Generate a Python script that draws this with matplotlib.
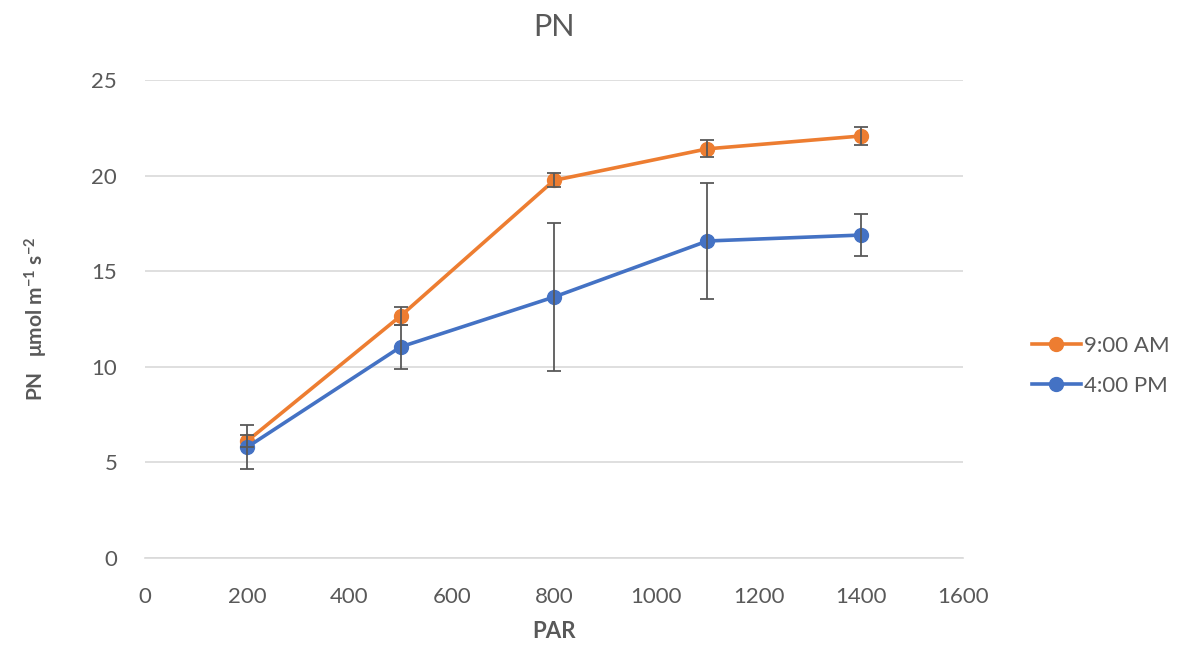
import matplotlib
matplotlib.use("Agg")
import matplotlib.pyplot as plt

plt.rcParams['font.family'] = ['Lato', 'DejaVu Sans']
plt.rcParams['mathtext.fontset'] = 'custom'
plt.rcParams['mathtext.rm'] = 'Lato'
plt.rcParams['mathtext.bf'] = 'Lato:bold'

par = [200, 500, 800, 1100, 1400]
am_values = [6.12, 12.66, 19.75, 21.40, 22.07]
am_errors = [0.30, 0.45, 0.37, 0.44, 0.49]
pm_values = [5.80, 11.04, 13.65, 16.58, 16.89]
pm_errors = [1.15, 1.17, 3.87, 3.03, 1.08]
series_labels = ['9:00 AM', '4:00 PM']
x_ticks = [0, 200, 400, 600, 800, 1000, 1200, 1400, 1600]
y_ticks = [0, 5, 10, 15, 20, 25]

W, H = 1197, 647
fig = plt.figure(figsize=(W / 100, H / 100), dpi=100)
ax = fig.add_axes([145 / W, 1 - 558 / H, (963 - 145) / W, (558 - 80) / H])

orange = '#ED7D31'
blue = '#4472C4'
grey = '#595959'

for vals, errs, col, lab in [(am_values, am_errors, orange, series_labels[0]),
                             (pm_values, pm_errors, blue, series_labels[1])]:
    ax.plot(par, vals, color=col, lw=2.6, marker='o', markersize=10, label=lab, zorder=3)
    ax.errorbar(par, vals, yerr=errs, fmt='none', ecolor=grey, elinewidth=1.3,
                capsize=5, capthick=1.3, zorder=4)

ax.set_xlim(0, 1600)
ax.set_ylim(0, 25)
ax.set_xticks(x_ticks)
ax.set_yticks(y_ticks)
ax.tick_params(axis='both', length=0, labelsize=16, labelcolor=grey)
ax.tick_params(axis='x', pad=21)
ax.tick_params(axis='y', pad=20)
ax.grid(axis='y', color='#d9d9d9', lw=1.2)
ax.set_axisbelow(True)
for s in ['top', 'right', 'left']:
    ax.spines[s].set_visible(False)
ax.spines['bottom'].set_color('#d9d9d9')
ax.spines['bottom'].set_linewidth(1.2)

ax.set_title('PN', fontsize=22, color=grey, pad=32)
ax.set_xlabel('PAR', fontsize=16, fontweight='bold', color=grey, labelpad=10)
ax.set_ylabel(r'PN   μmol m$\mathbf{^{-1}}$ s$\mathbf{^{-2}}$', fontsize=15,
              fontweight='bold', color=grey, labelpad=30)

handles, labels = ax.get_legend_handles_labels()
leg = fig.legend(handles, labels, loc='center left', bbox_to_anchor=(1012 / W, 1 - 366 / H),
                 frameon=False, fontsize=16, handlelength=2.2, labelspacing=0.9,
                 handletextpad=0.15)
for t in leg.get_texts():
    t.set_color(grey)

fig.savefig('out.png', dpi=100)
